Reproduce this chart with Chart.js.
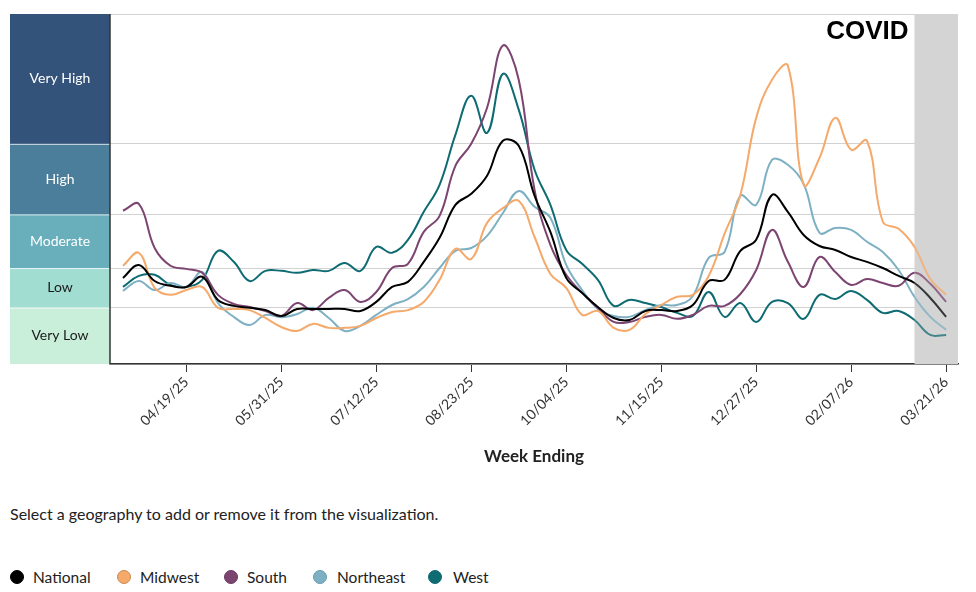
<!DOCTYPE html>
<html>
<head>
<meta charset="utf-8">
<script src="https://cdn.jsdelivr.net/npm/chart.js@4"></script>
<style>
  html, body { margin: 0; padding: 0; background: #fff; width: 976px; height: 592px; overflow: hidden; font-family: Lato, "Open Sans", sans-serif; color: #1a1a1a; }
  #wrap { position: absolute; left: 0; top: 0; width: 976px; height: 475px; }
  #note { position: absolute; left: 10px; top: 504px; font-size: 16px; color: #222; }
  #legend { position: absolute; left: 0; top: 566px; height: 22px; width: 976px; font-size: 15.5px; color: #222; }
  .item { position: absolute; top: 0; height: 22px; line-height: 22px; cursor: pointer; white-space: nowrap; }
  .dot { position: absolute; top: 4px; width: 14px; height: 14px; border-radius: 50%; box-sizing: border-box; }
  .item span.lbl { position: absolute; top: 0; }
</style>
</head>
<body>
<div id="wrap"><canvas id="c"></canvas></div>
<div id="note">Select a geography to add or remove it from the visualization.</div>
<div id="legend"></div>
<script>
// ---- Data ----
const weekLabels = [
  "03/22/25","03/29/25","04/05/25","04/12/25","04/19/25","04/26/25","05/03/25","05/10/25","05/17/25","05/24/25",
  "05/31/25","06/07/25","06/14/25","06/21/25","06/28/25","07/05/25","07/12/25","07/19/25","07/26/25","08/02/25",
  "08/09/25","08/16/25","08/23/25","08/30/25","09/06/25","09/13/25","09/20/25","09/27/25","10/04/25","10/11/25",
  "10/18/25","10/25/25","11/01/25","11/08/25","11/15/25","11/22/25","11/29/25","12/06/25","12/13/25","12/20/25",
  "12/27/25","01/03/26","01/10/26","01/17/26","01/24/26","01/31/26","02/07/26","02/14/26","02/21/26","02/28/26",
  "03/07/26","03/14/26","03/21/26"
];
const tickIndices = [4, 10, 16, 22, 28, 34, 40, 46, 52];
const provisionalFrom = 50;

const national = [3.05, 3.51, 2.94, 2.77, 2.73, 3.09, 2.27, 2.06, 1.99, 1.91,
  1.70, 1.95, 1.95, 1.95, 1.95, 1.88, 2.20, 2.73, 2.91, 3.62,
  4.47, 5.64, 6.03, 6.67, 7.91, 7.73, 5.96, 4.68, 3.05, 2.52,
  2.02, 1.63, 1.56, 1.88, 1.91, 1.88, 2.09, 2.94, 2.98, 4.01,
  4.40, 5.99, 5.39, 4.57, 4.18, 4.04, 3.79, 3.62, 3.40, 3.12,
  2.87, 2.34, 1.67];
const midwest = [3.48, 3.94, 2.70, 2.45, 2.62, 2.73, 1.99, 1.95, 1.91, 1.63,
  1.31, 1.17, 1.42, 1.28, 1.28, 1.35, 1.63, 1.84, 1.91, 2.20,
  2.98, 4.08, 3.72, 5.00, 5.52, 5.78, 4.50, 3.19, 2.70, 1.74,
  1.88, 1.28, 1.21, 1.77, 2.09, 2.38, 2.45, 3.12, 4.61, 5.99,
  8.72, 10.07, 10.57, 6.35, 7.30, 8.72, 7.59, 7.91, 5.04, 4.79,
  4.15, 3.01, 2.45];
const south = [5.43, 5.67, 4.11, 3.48, 3.37, 3.23, 2.45, 2.13, 2.02, 1.88,
  1.70, 2.16, 1.91, 2.34, 2.62, 2.20, 2.55, 3.40, 3.55, 4.68,
  5.25, 7.02, 7.80, 9.08, 11.28, 10.07, 6.17, 4.22, 3.16, 2.52,
  1.99, 1.49, 1.49, 1.67, 1.74, 1.60, 1.74, 2.06, 2.06, 2.48,
  3.33, 4.75, 3.62, 2.73, 3.79, 3.26, 2.80, 3.01, 2.87, 2.77,
  3.23, 2.84, 2.20];
const northeast = [2.59, 2.94, 2.62, 2.87, 2.73, 3.26, 2.16, 1.67, 1.38, 1.74,
  1.66, 1.77, 1.99, 1.63, 1.17, 1.35, 1.74, 2.09, 2.30, 2.73,
  3.40, 4.01, 4.11, 4.54, 5.35, 6.13, 5.57, 5.18, 3.51, 2.62,
  1.95, 1.70, 1.67, 1.91, 2.09, 2.09, 2.41, 3.76, 3.97, 5.96,
  5.64, 7.23, 7.06, 6.38, 4.65, 4.82, 4.75, 4.33, 3.97, 3.33,
  2.38, 1.67, 1.21];
const west = [2.73, 3.12, 3.16, 2.80, 2.73, 2.98, 4.01, 3.62, 2.94, 3.30,
  3.30, 3.23, 3.33, 3.30, 3.58, 3.30, 4.15, 3.94, 4.40, 5.39,
  6.35, 8.12, 9.50, 8.19, 10.28, 9.01, 6.88, 5.64, 4.04, 3.55,
  2.98, 2.06, 2.27, 2.16, 2.02, 1.81, 1.70, 2.55, 1.67, 2.16,
  1.49, 2.20, 2.16, 1.60, 2.45, 2.30, 2.59, 2.27, 1.81, 1.88,
  1.56, 1.03, 1.03];

const seriesNames = ["National", "Midwest", "South", "Northeast", "West"];
const seriesValues = [national, midwest, south, northeast, west];
const seriesColors = ["#000000", "#f5a96a", "#7c4470", "#7eb0c4", "#0e6b72"];
const seriesDotBorders = ["#000000", "#c98a55", "#6a3a60", "#6c9db1", "#0e6b72"];

const levelBounds = [0, 2, 3.4, 5.3, 7.8, 12.4];
const levelNames = ["Very Low", "Low", "Moderate", "High", "Very High"];
const levelColors = ["#c9efda", "#a2ddd2", "#68afbb", "#4b7e9b", "#34537a"];
const levelTextColors = ["#1a1a1a", "#1a1a1a", "#ffffff", "#ffffff", "#ffffff"];

// ---- Chart ----
Chart.defaults.font.family = "Lato, 'Open Sans', sans-serif";
Chart.defaults.color = "#333";

function fade(hex, a) {
  const n = parseInt(hex.slice(1), 16);
  return `rgba(${(n >> 16) & 255},${(n >> 8) & 255},${n & 255},${a})`;
}

const datasets = seriesNames.map((name, k) => ({
  label: name,
  data: seriesValues[k].map((v, i) => ({ x: i, y: v })),
  borderColor: seriesColors[k],
  backgroundColor: seriesColors[k],
  borderWidth: 2,
  pointRadius: 0,
  pointHoverRadius: 3,
  tension: 0.4,
  fill: false,
  segment: {
    borderColor: ctx => ctx.p0DataIndex >= provisionalFrom ? fade(seriesColors[k], 0.75) : undefined
  }
}));

const bandsPlugin = {
  id: "bands",
  beforeDatasetsDraw(chart) {
    const { ctx, chartArea, scales: { x, y } } = chart;
    // provisional gray region
    const gx = x.getPixelForValue(provisionalFrom);
    ctx.save();
    ctx.fillStyle = "#d4d4d4";
    ctx.fillRect(gx, chartArea.top, chartArea.right - gx, chartArea.bottom - chartArea.top);
    ctx.restore();
  },
  afterDraw(chart) {
    const { ctx, chartArea, scales: { x, y } } = chart;
    ctx.save();
    const left = 10, right = chartArea.left;
    for (let i = 0; i < levelNames.length; i++) {
      const yb = y.getPixelForValue(levelBounds[i]);
      const yt = y.getPixelForValue(levelBounds[i + 1]);
      ctx.fillStyle = levelColors[i];
      ctx.fillRect(left, yt, right - left, yb - yt);
      if (i < levelNames.length - 1) {
        ctx.fillStyle = "rgba(255,255,255,0.75)";
        ctx.fillRect(left, yt - 0.5, right - left, 1.5);
      }
      ctx.fillStyle = levelTextColors[i];
      ctx.font = "14px Lato, 'Open Sans', sans-serif";
      ctx.textAlign = "center";
      ctx.textBaseline = "middle";
      ctx.fillText(levelNames[i], (left + right) / 2, (yt + yb) / 2);
    }
    // left axis line
    ctx.strokeStyle = "#333";
    ctx.lineWidth = 1.5;
    ctx.beginPath();
    ctx.moveTo(chartArea.left, chartArea.top);
    ctx.lineTo(chartArea.left, chartArea.bottom);
    ctx.stroke();
    // title
    const gx = x.getPixelForValue(provisionalFrom);
    ctx.fillStyle = "#000";
    ctx.font = "bold 26px 'Liberation Sans', Arial, sans-serif";
    ctx.textAlign = "right";
    ctx.textBaseline = "middle";
    ctx.fillText("COVID", gx - 6, chartArea.top + 18);
    ctx.restore();
  }
};

const chart = new Chart(document.getElementById("c"), {
  type: "line",
  data: { datasets },
  options: {
    responsive: true,
    maintainAspectRatio: false,
    animation: false,
    layout: { padding: { left: 110, right: 18, top: 14, bottom: 0 } },
    plugins: { legend: { display: false }, tooltip: { mode: "index", intersect: false,
      callbacks: { title: items => items.length ? weekLabels[items[0].parsed.x] : "" } } },
    scales: {
      x: {
        type: "linear",
        min: -0.82,
        max: 52.75,
        afterBuildTicks: s => { s.ticks = tickIndices.map(v => ({ value: v })); },
        afterFit: s => { s.height = 111; },
        grid: { display: true, drawOnChartArea: false, drawTicks: true, tickLength: 8, color: "#333", lineWidth: 1 },
        border: { display: true, color: "#333", width: 1.5 },
        ticks: {
          autoSkip: false,
          minRotation: 45,
          maxRotation: 45,
          padding: 2,
          color: "#333",
          font: { size: 14 },
          callback: v => weekLabels[v] || ""
        },
        title: {
          display: true,
          text: "Week Ending",
          color: "#222",
          font: { size: 17, weight: "bold" },
          padding: { top: 0, bottom: 8 }
        }
      },
      y: {
        type: "linear",
        min: levelBounds[0],
        max: levelBounds[levelBounds.length - 1],
        afterBuildTicks: s => { s.ticks = levelBounds.map(v => ({ value: v })); },
        afterFit: s => { s.width = 0; },
        ticks: { display: false },
        grid: { color: "#d2d2d2", lineWidth: 1, drawTicks: false },
        border: { display: false }
      }
    }
  },
  plugins: [bandsPlugin]
});

// ---- HTML legend ----
const legendPos = [[10, 33], [117, 140], [224, 247], [313, 337], [428, 453]];
const legendEl = document.getElementById("legend");
seriesNames.forEach((name, k) => {
  const item = document.createElement("div");
  item.className = "item";
  item.style.left = legendPos[k][0] + "px";
  item.style.width = "110px";
  const dot = document.createElement("div");
  dot.className = "dot";
  dot.style.left = "0px";
  dot.style.background = seriesColors[k];
  dot.style.border = "1px solid " + seriesDotBorders[k];
  const lbl = document.createElement("span");
  lbl.className = "lbl";
  lbl.style.left = (legendPos[k][1] - legendPos[k][0]) + "px";
  lbl.textContent = name;
  item.appendChild(dot);
  item.appendChild(lbl);
  item.addEventListener("click", () => {
    const vis = chart.isDatasetVisible(k);
    chart.setDatasetVisibility(k, !vis);
    item.style.opacity = vis ? 0.4 : 1;
    chart.update();
  });
  legendEl.appendChild(item);
});
</script>
</body>
</html>
